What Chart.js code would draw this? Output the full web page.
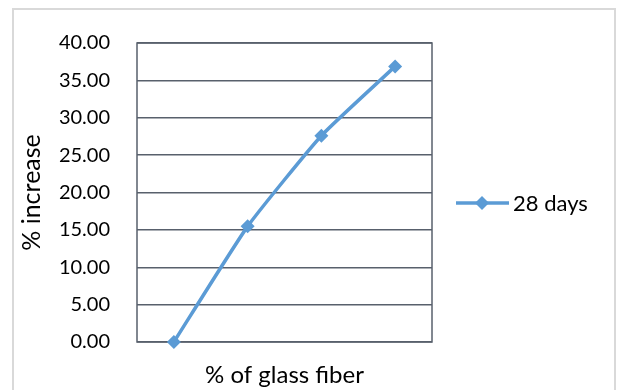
<!DOCTYPE html>
<html>
<head>
  <title>% increase - 28 days</title>
  <script src="https://cdn.jsdelivr.net/npm/chart.js"></script>
  <style>
    body { margin: 0; background: #fff; }
    #wrap { width: 617px; height: 390px; }
  </style>
</head>
<body>
  <div id="wrap"><canvas id="chart" width="617" height="390"></canvas></div>

  <script>
    // data (x categories carry no visible labels)
    const categories = ['', '', '', ''];
    const increase28 = [0.00, 15.47, 27.60, 36.87];
    const seriesName = '28 days';
    const yTitle = '% increase';
    const xTitle = '% of glass fiber';

    const lineColor = '#5b9bd5';
    const gridColor = '#58606c';
    const fontFamily = 'Lato, Carlito, Calibri, sans-serif';

    // outer frame + plot border + legend drawn by hand, Excel style
    const excelLook = {
      id: 'excelLook',
      beforeDraw(chart) {
        const ctx = chart.ctx;
        ctx.save();
        ctx.strokeStyle = '#d9d9d9';
        ctx.lineWidth = 2;
        ctx.strokeRect(13, 9, 602, 400);
        ctx.restore();
      },
      beforeDatasetsDraw(chart) {
        const a = chart.chartArea;
        const ctx = chart.ctx;
        ctx.save();
        ctx.strokeStyle = gridColor;
        ctx.lineWidth = 1.5;
        ctx.strokeRect(a.left, a.top, a.right - a.left, a.bottom - a.top);
        ctx.restore();
      },
      afterDraw(chart) {
        const ctx = chart.ctx;
        const y = 203;
        ctx.save();
        ctx.strokeStyle = lineColor;
        ctx.lineWidth = 3.5;
        ctx.beginPath();
        ctx.moveTo(456, y);
        ctx.lineTo(509, y);
        ctx.stroke();
        ctx.fillStyle = lineColor;
        ctx.beginPath();
        ctx.moveTo(482, y - 7);
        ctx.lineTo(489, y);
        ctx.lineTo(482, y + 7);
        ctx.lineTo(475, y);
        ctx.closePath();
        ctx.fill();
        ctx.fillStyle = '#000';
        ctx.font = '22px ' + fontFamily;
        ctx.textAlign = 'left';
        ctx.textBaseline = 'middle';
        ctx.fillText(chart.data.datasets[0].label, 513, y + 1);
        ctx.restore();
      }
    };

    const ctx = document.getElementById('chart').getContext('2d');
    new Chart(ctx, {
      type: 'line',
      data: {
        labels: categories,
        datasets: [{
          label: seriesName,
          data: increase28,
          borderColor: lineColor,
          backgroundColor: lineColor,
          borderWidth: 3.5,
          tension: 0.15,
          pointStyle: 'rectRot',
          pointRadius: 7,
          pointBorderWidth: 0,
          clip: false
        }]
      },
      options: {
        responsive: false,
        animation: false,
        layout: { padding: { left: 0, top: 43, right: 185, bottom: 0 } },
        plugins: {
          legend: { display: false },
          tooltip: { enabled: false }
        },
        scales: {
          x: {
            offset: true,
            grid: { display: false, drawTicks: false },
            border: { display: false },
            ticks: { display: false },
            title: {
              display: true,
              text: xTitle,
              color: '#000',
              font: { family: fontFamily, size: 24 },
              padding: { top: 0, bottom: 0 }
            },
            afterFit(scale) { scale.height = 48; }
          },
          y: {
            min: 0,
            max: 40,
            grid: { color: gridColor, lineWidth: 1.5, drawTicks: false },
            border: { display: false },
            ticks: {
              stepSize: 5,
              padding: 27,
              color: '#000',
              font: { family: fontFamily, size: 20 },
              callback: v => v.toFixed(2)
            },
            title: {
              display: true,
              text: yTitle,
              color: '#000',
              font: { family: fontFamily, size: 25 },
              padding: { top: 17, bottom: 0 }
            },
            afterFit(scale) { scale.width = 137; }
          }
        }
      },
      plugins: [excelLook]
    });
  </script>
</body>
</html>
